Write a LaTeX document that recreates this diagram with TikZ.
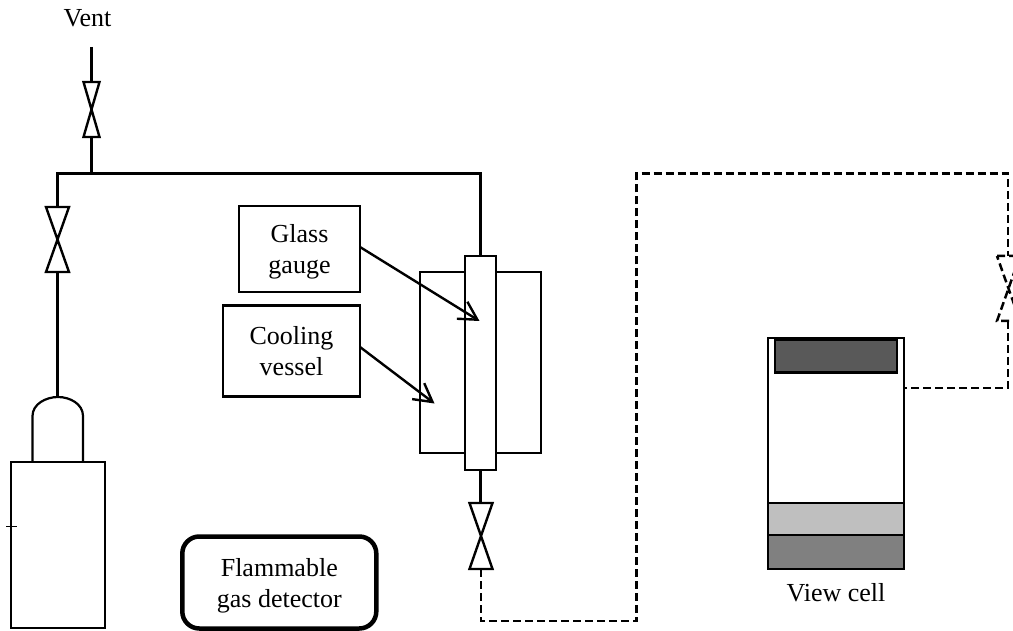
\documentclass[tikz,border=0pt]{standalone}
\usepackage{fontspec}
\setmainfont{Liberation Serif}
\usetikzlibrary{arrows.meta}
\tikzset{
  pipe/.style={line width=2.5pt,black},
  dashpipe/.style={line width=2.5pt,black,dash pattern=on 8pt off 4pt},
  box/.style={draw,black,line width=2.4pt,inner sep=0pt,align=center,font=\fontsize{26}{31}\selectfont},
  label/.style={inner sep=0pt,font=\fontsize{26}{31}\selectfont,align=center},
  pointer/.style={line width=2.4pt,-{Straight Barb[length=18pt,width=20pt,line width=2.4pt]}},
  valve/.style={line width=2.4pt,line join=miter},
}
\newcommand{\valveshape}[6][]{%
  \draw[valve,#1] (#2,#4) -- (#3,#4) -- (#2,#5) -- (#3,#5) -- cycle;
  \coordinate (#6t) at ({(#2+#3)/2},#4);
  \coordinate (#6b) at ({(#2+#3)/2},#5);
}
\begin{document}
\begin{tikzpicture}[x=1pt,y=-1pt]
\useasboundingbox (0,0) rectangle (1013,631);
\fill[white] (0,0) rectangle (1013,631);
% text
\node[label] (vent) at (87.5,18.5) {Vent};
% cylinder
\node[box,minimum width=94pt,minimum height=166pt] (cyl) at (58,545) {};
\draw[pipe,line width=2.2pt] (32.5,462) -- (32.5,416) .. controls (32.5,404) and (46,397) .. (58,397) .. controls (70,397) and (83,404) .. (83,416) -- (83,462);
\coordinate (dome) at (58,397);
\draw[line width=.8pt] (6,526) -- (17,526);
% valves
\valveshape{83.5}{99.5}{82}{137}{va}
\valveshape{46}{69}{207}{272}{vb}
\valveshape{469.5}{492.5}{503}{569}{vc}
\valveshape[dashpipe]{997}{1020}{256}{321}{vd}
% pipes
\coordinate (venttop) at (91.5,47);
\coordinate (tee) at (91.5,173.5);
\coordinate (cornerL) at (57.5,173.5);
\coordinate (cornerR) at (480.5,173.5);
\draw[pipe] (venttop) -- (vat);
\draw[pipe] (vab) -- (tee);
\draw[pipe] (vbt) -- (cornerL) -- (cornerR) -- (480.5,256);
\draw[pipe] (vbb) -- (vbb |- dome);
% vessel and tube
\node[box,minimum width=121pt,minimum height=181pt] (vessel) at (480.5,362.5) {};
\node[box,fill=white,minimum width=31pt,minimum height=214pt,line width=2.6pt] (tube) at (480.5,363) {};
\draw[pipe] (tube.south) -- (tube.south |- vct);
% labels with boxes
\node[box,minimum width=121pt,minimum height=86pt] (glass) at (299.5,249) {\rule{0pt}{24.6pt}Glass\\gauge};
\node[box,minimum width=137pt,minimum height=91pt] (cool) at (291.5,351) {\rule{0pt}{19pt}Cooling\\vessel};
\coordinate (gs) at (360,247);
\coordinate (ge) at (479.5,321);
\coordinate (cs) at (360,347);
\coordinate (ce) at (434.5,403.5);
\draw[pointer] (gs) -- (ge);
\draw[pointer] (cs) -- (ce);
% detector
\node[box,line width=4.5pt,rounded corners=17pt,minimum width=194pt,minimum height=92pt] (det) at (279.3,582.5) {\rule{0pt}{25.2pt}Flammable\\gas detector};
% view cell
\node[box,line width=2.6pt,minimum width=136pt,minimum height=231pt] (cell) at (836,453.5) {};
\node[box,line width=2.8pt,fill=black!65,minimum width=122pt,minimum height=33pt] (top) at (836,356) {};
\node[box,line width=2.4pt,fill=black!25,minimum width=136pt,minimum height=32pt] (mid) at (836,519) {};
\node[box,line width=2.6pt,fill=black!50,minimum width=136pt,minimum height=34pt] (bot) at (836,552) {};
\node[label] (celllabel) at (836,593) {View cell};
% dashed lines
\coordinate (d1) at (481,621);
\coordinate (d2) at (636.5,621);
\coordinate (d3) at (636.5,173.5);
\coordinate (d4) at (1008,173.5);
\coordinate (d5) at (1008,321);
\coordinate (d6) at (1008,388);
\draw[dashpipe] (vcb) -- (d1) -- (d2) -- (d3) -- (d4) -- (1008,256);
\draw[dashpipe] (d5) -- (d6) -- (cell.east |- d6);
\end{tikzpicture}
\end{document}
